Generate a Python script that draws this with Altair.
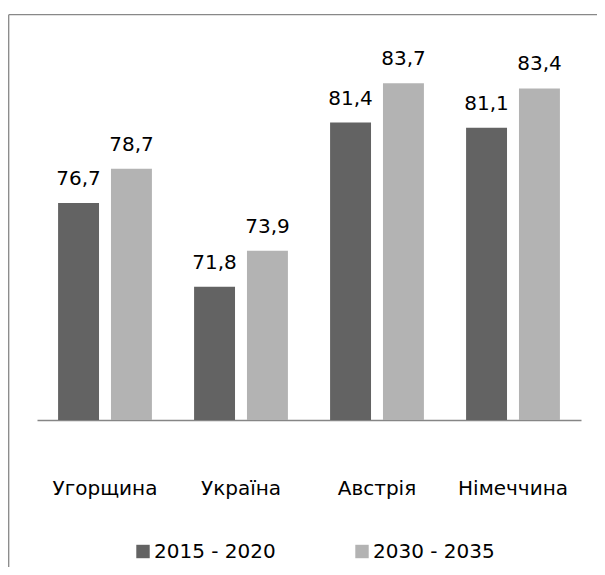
import altair as alt
import pandas as pd

countries = ["Угорщина", "Україна", "Австрія", "Німеччина"]
periods = ["2015 - 2020", "2030 - 2035"]
v1 = [76.7, 71.8, 81.4, 81.1]
v2 = [78.7, 73.9, 83.7, 83.4]
colors = ["#636363", "#b3b3b3"]

rows = []
for c, a, b in zip(countries, v1, v2):
    rows.append({"country": c, "period": periods[0], "value": a})
    rows.append({"country": c, "period": periods[1], "value": b})
df = pd.DataFrame(rows)
df["label"] = df["value"].map(lambda v: f"{v:.1f}".replace(".", ","))

FONT = "DejaVu Sans"

x = alt.X(
    "country:N", sort=countries,
    scale=alt.Scale(paddingInner=0.31, paddingOuter=0.155),
    axis=alt.Axis(title=None, labelAngle=0, ticks=False, tickSize=0,
                  labelPadding=74, labelBaseline="alphabetic",
                  labelFontSize=20, labelFont=FONT, labelColor="black",
                  domainColor="#868686", domainWidth=1.6, grid=False),
)
xo = alt.XOffset("period:N", sort=periods,
                 scale=alt.Scale(paddingInner=0.226, paddingOuter=0))
y = alt.Y("value:Q", scale=alt.Scale(domain=[64, 86], zero=False, nice=False), axis=None)

bars = alt.Chart(df).mark_bar().encode(
    x=x, xOffset=xo, y=y, y2=alt.datum(64),
    color=alt.Color(
        "period:N", sort=periods,
        scale=alt.Scale(domain=periods, range=colors),
        legend=alt.Legend(title=None, orient="none", legendX=96, legendY=497.5,
                          direction="horizontal", symbolType="square",
                          symbolSize=180, symbolStrokeWidth=0, symbolOpacity=1,
                          labelFontSize=20, labelFont=FONT, labelColor="black",
                          columnPadding=76, labelOffset=1, padding=0),
    ),
)

text = alt.Chart(df).mark_text(
    dy=-18, baseline="alphabetic", fontSize=20, font=FONT, color="black"
).encode(x=x, xOffset=xo, y=y, text="label:N")

one = pd.DataFrame({"k": [0]})
frame_top = alt.Chart(one).mark_rule(color="#888888", strokeWidth=1.3).encode(
    x=alt.value(-28.3), x2=alt.value(600), y=alt.value(-29.3)
)
frame_left = alt.Chart(one).mark_rule(color="#888888", strokeWidth=1.3).encode(
    x=alt.value(-28.3), y=alt.value(-29.3), y2=alt.value(600)
)

chart = alt.layer(frame_top, frame_left, bars, text).properties(
    width=544, height=376,
    autosize=alt.AutoSizeParams(type="none"),
    padding={"left": 29, "top": 36, "right": 16, "bottom": 147},
    background="white",
).configure_view(stroke=None)

chart.save("out.html", embed_options={"renderer": "svg", "actions": False})
